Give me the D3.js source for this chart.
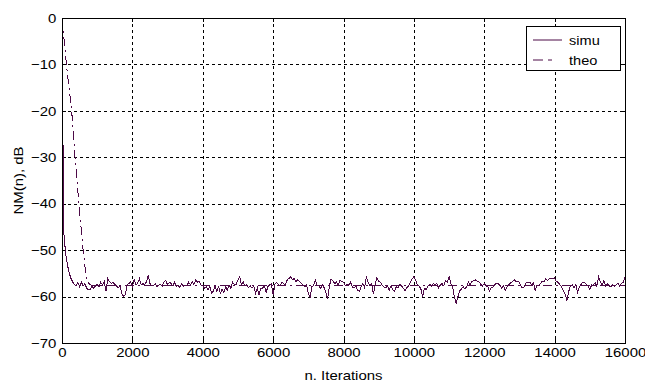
<!DOCTYPE html>
<html>
<head>
<meta charset="utf-8">
<script src="https://cdn.jsdelivr.net/npm/d3@7"></script>
<style>
  body { margin: 0; background: #fff; }
  svg { display: block; }
  text { font-family: Arial, "Liberation Sans", sans-serif; fill: #000; }
</style>
</head>
<body>
<svg id="chart" width="645" height="383"></svg>
<script>
// ---- data ----
const xTicks = [0, 2000, 4000, 6000, 8000, 10000, 12000, 14000, 16000];
const yTicks = [0, -10, -20, -30, -40, -50, -60, -70];
const xLabel = "n. Iterations";
const yLabel = "NM(n), dB";
const seriesNames = ["simu", "theo"];

// simulated NM(n) in dB, one value every 50 iterations, n = 0 ... 16000
const simuStep = 50;
const simuDb = [
  -2, -46, -50.5, -53, -54.8, -56, -56.8, -57.4, -57.7, -56.9, -57.9, -56.9, -57.7, -57.2, -58.2, -58.5, -58.6, -57.7, -58.2, -57.7,
  -57.4, -57.9, -56.9, -57.5, -56.8, -58.8, -56.1, -56.8, -57.2, -56.9, -57.4, -57.7, -58.1, -57.7, -59.3, -60.0, -59.5, -57.5, -57.2, -56.8,
  -57.9, -56.4, -57.5, -57.1, -56.2, -57.5, -57.2, -57.5, -56.8, -55.4, -57.2, -57.7, -57.7, -57.2, -57.9, -57.5, -57.4, -57.7, -56.8, -56.5,
  -57.5, -56.9, -57.2, -57.7, -56.9, -57.9, -57.5, -58.1, -57.2, -57.9, -57.5, -57.7, -56.9, -57.5, -56.8, -57.4, -56.4, -56.9, -56.7, -57.5,
  -57.7, -58.2, -57.9, -58.6, -57.7, -59.3, -58.8, -57.7, -58.8, -57.9, -59.3, -58.4, -59.1, -57.9, -58.6, -57.5, -58.2, -56.9, -57.5, -57.4,
  -56.4, -55.7, -57.5, -56.8, -57.7, -57.4, -58.1, -57.7, -58.2, -57.8, -59.3, -58.1, -59.7, -58.2, -58.2, -57.7, -59.1, -57.9, -57.5, -57.2,
  -59.7, -57.4, -56.9, -57.5, -57.7, -56.9, -57.2, -57.5, -56.4, -56.1, -55.7, -56.4, -56.1, -56.8, -56.4, -56.7, -57.2, -57.5, -57.9, -57.5,
  -59.3, -60.2, -57.9, -57.6, -56.4, -57.5, -57.7, -58.2, -57.5, -58.1, -59.1, -60.5, -57.7, -56.2, -56.6, -57.2, -56.9, -57.5, -56.4, -56.8,
  -56.9, -57.7, -57.4, -57.5, -56.9, -57.9, -58.2, -57.7, -58.6, -58.9, -57.9, -57.2, -58.1, -55.7, -56.9, -57.7, -57.2, -59.5, -57.5, -55.9,
  -56.7, -56.9, -57.5, -57.9, -58.1, -57.7, -58.6, -57.7, -58.6, -58.9, -57.9, -58.2, -57.4, -57.7, -58.2, -58.8, -58.1, -57.7, -56.9, -56.2,
  -55.7, -56.4, -57.5, -57.7, -58.4, -60.0, -58.2, -58.5, -57.7, -57.4, -57.7, -57.2, -57.5, -57.1, -58.1, -57.5, -57.2, -57.7, -56.5, -56.9,
  -55.7, -57.2, -57.8, -60.0, -61.5, -60.1, -58.8, -58.4, -57.9, -58.4, -57.9, -56.9, -57.5, -56.7, -56.6, -56.4, -56.7, -56.8, -57.4, -57.7,
  -57.2, -57.7, -57.9, -58.8, -58.1, -57.9, -57.4, -57.1, -57.2, -57.7, -58.2, -57.7, -58.7, -57.8, -57.4, -57.0, -56.8, -56.4, -56.7, -56.8,
  -56.9, -57.9, -58.1, -57.9, -56.9, -56.9, -56.9, -57.5, -57.1, -58.7, -57.5, -57.7, -57.2, -56.7, -56.8, -56.2, -56.5, -56.2, -56.1, -56.2,
  -56.0, -56.8, -56.9, -57.5, -57.9, -58.8, -59.5, -60.9, -58.9, -57.7, -57.5, -58.1, -57.4, -59.1, -58.1, -57.4, -56.9, -56.9, -57.4, -57.7,
  -58.5, -57.5, -57.6, -57.0, -57.8, -55.8, -56.8, -57.5, -56.5, -57.8, -57.2, -57.7, -57.9, -57.4, -57.8, -57.4, -57.1, -57.8, -57.2, -56.9,
  -55.7
];

// theoretical NM(n) in dB (break points)
const theoN  = [0, 40, 100, 140, 275, 370, 480, 600, 680, 760, 850, 16000];
const theoDb = [0, -3, -8, -11, -20, -30, -40, -50, -55.5, -57.2, -57.6, -57.6];

// ---- drawing ----
const svg = d3.select("#chart");
const W = 645, H = 383;
svg.append("rect").attr("width", W).attr("height", H).attr("fill", "#fff");

const x = d3.scaleLinear().domain([0, 16000]).range([62, 625]);
const y = d3.scaleLinear().domain([-70, 0]).range([343, 18]);
const lineColor = "#4d0a47";
const stretch = "scale(1.15,1)";

// grid
const grid = svg.append("g").attr("stroke", "#000").attr("stroke-width", 1)
  .attr("stroke-dasharray", "3,3").attr("shape-rendering", "crispEdges");
grid.selectAll(".gx").data(xTicks.slice(1, -1)).enter().append("line")
  .attr("x1", d => Math.round(x(d)) + 0.5).attr("x2", d => Math.round(x(d)) + 0.5)
  .attr("y1", y(0)).attr("y2", y(-70));
grid.selectAll(".gy").data(yTicks.slice(1, -1)).enter().append("line")
  .attr("y1", d => Math.round(y(d)) + 0.5).attr("y2", d => Math.round(y(d)) + 0.5)
  .attr("x1", x(0)).attr("x2", x(16000));

// axes
const xAxis = svg.append("g").attr("transform", `translate(0,${y(-70)})`)
  .call(d3.axisBottom(x).tickValues(xTicks).tickSize(-4).tickPadding(5).tickFormat(d3.format("d")));
const yAxis = svg.append("g").attr("transform", `translate(${x(0)},0)`)
  .call(d3.axisLeft(y).tickValues(yTicks).tickSize(-4).tickPadding(5).tickFormat(d3.format("d")));
const xAxisTop = svg.append("g").attr("transform", `translate(0,${y(0)})`)
  .call(d3.axisTop(x).tickValues(xTicks).tickSize(-4).tickFormat(""));
const yAxisRight = svg.append("g").attr("transform", `translate(${x(16000)},0)`)
  .call(d3.axisRight(y).tickValues(yTicks).tickSize(-4).tickFormat(""));
[xAxis, yAxis, xAxisTop, yAxisRight].forEach(g => {
  g.select(".domain").remove();
  g.selectAll("line").attr("stroke", "#000").attr("shape-rendering", "crispEdges");
  g.selectAll("text").style("font-size", "13px").attr("fill", "#000")
    .attr("font-family", "Arial, 'Liberation Sans', sans-serif");
});
xAxis.selectAll("text").attr("transform", stretch);
yAxis.selectAll("text").attr("transform", stretch);

// data lines
const simuData = simuDb.map((v, i) => [i * simuStep, v]);
const theoData = theoN.map((n, i) => [n, theoDb[i]]);
const line = d3.line().x(d => x(d[0])).y(d => y(d[1]));

svg.append("path").datum(simuData).attr("d", line)
  .attr("fill", "none").attr("stroke", lineColor).attr("stroke-width", 1)
  .attr("stroke-linejoin", "miter").attr("shape-rendering", "crispEdges");
svg.append("path").datum(theoData).attr("d", line)
  .attr("fill", "none").attr("stroke", lineColor).attr("stroke-width", 1)
  .attr("stroke-dasharray", "9,4,2,4").attr("shape-rendering", "crispEdges");

// box
svg.append("rect").attr("x", x(0) + 0.5).attr("y", y(0) + 0.5)
  .attr("width", x(16000) - x(0)).attr("height", y(-70) - y(0))
  .attr("fill", "none").attr("stroke", "#000").attr("shape-rendering", "crispEdges");

// axis labels
svg.append("text").attr("transform", `translate(${(x(0) + x(16000)) / 2},380) ${stretch}`)
  .attr("text-anchor", "middle").style("font-size", "13px").text(xLabel);
svg.append("text").attr("transform", `translate(23,${(y(0) + y(-70)) / 2}) rotate(-90) scale(1.15,1)`)
  .attr("text-anchor", "middle").style("font-size", "13px").text(yLabel);

// legend
const lg = svg.append("g");
lg.append("rect").attr("x", 526.5).attr("y", 26.5).attr("width", 94).attr("height", 44)
  .attr("fill", "#fff").attr("stroke", "#000").attr("shape-rendering", "crispEdges");
const legendRows = [
  { name: seriesNames[0], dash: null, yy: 40 },
  { name: seriesNames[1], dash: "10,5,4,20", yy: 60 }
];
legendRows.forEach(r => {
  const l = lg.append("line").attr("x1", 533).attr("x2", 562).attr("y1", r.yy).attr("y2", r.yy)
    .attr("stroke", lineColor).attr("stroke-width", 1);
  if (r.dash) l.attr("stroke-dasharray", r.dash);
  lg.append("text").attr("transform", `translate(569,${r.yy + 4.5}) scale(1.12,1)`)
    .style("font-size", "13px").text(r.name);
});
</script>
</body>
</html>
